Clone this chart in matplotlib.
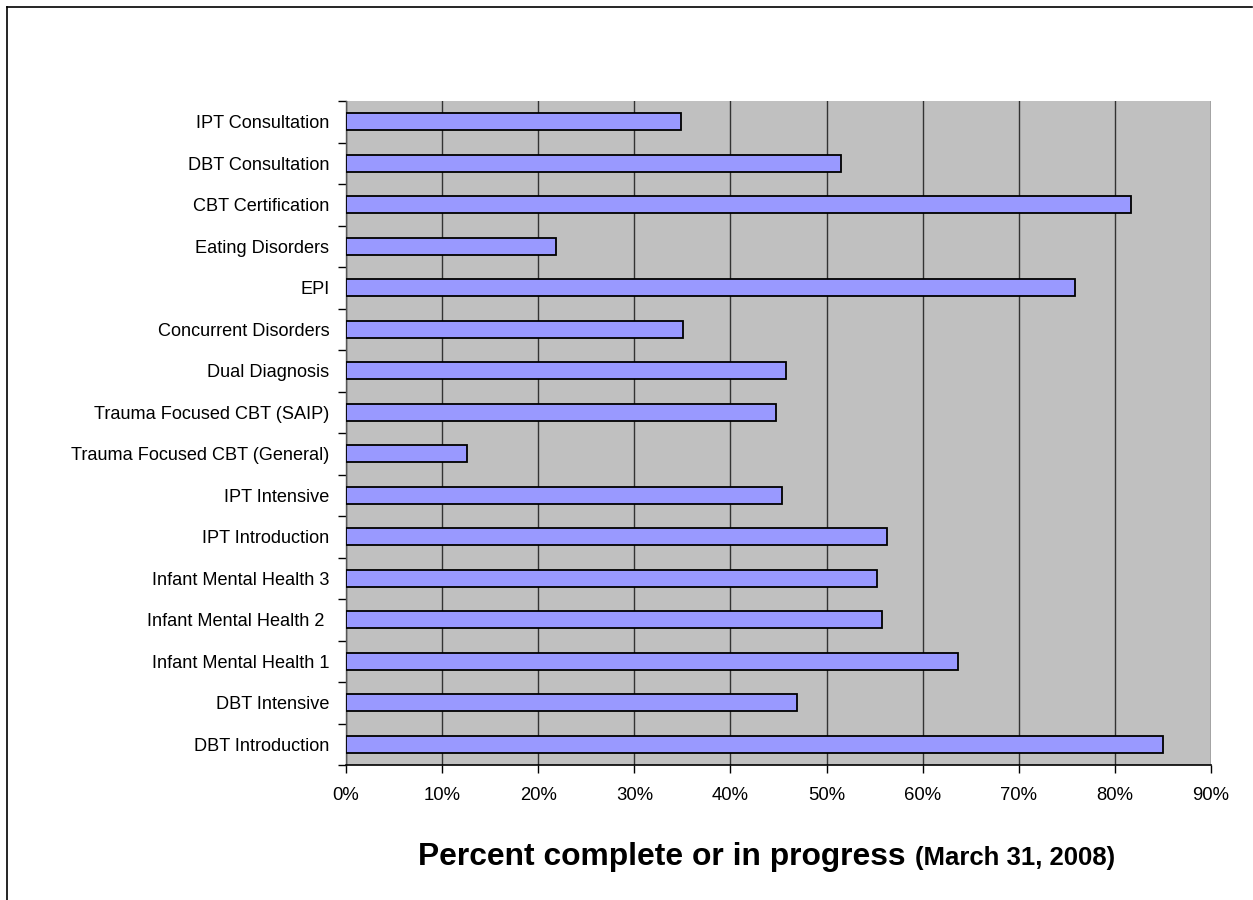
import matplotlib
matplotlib.use("Agg")
import matplotlib.pyplot as plt
from matplotlib.lines import Line2D
from matplotlib.ticker import FixedLocator, PercentFormatter

plt.rcParams['font.family'] = ['Liberation Sans', 'DejaVu Sans']

categories = [
    "DBT Introduction", "DBT Intensive", "Infant Mental Health 1",
    "Infant Mental Health 2 ", "Infant Mental Health 3", "IPT Introduction",
    "IPT Intensive", "Trauma Focused CBT (General)", "Trauma Focused CBT (SAIP)",
    "Dual Diagnosis", "Concurrent Disorders", "EPI", "Eating Disorders",
    "CBT Certification", "DBT Consultation", "IPT Consultation",
]
values = [85.0, 46.9, 63.7, 55.8, 55.3, 56.3, 45.4, 12.6, 44.7, 45.8,
          35.1, 75.9, 21.9, 81.7, 51.5, 34.9]
xticks = [0, 10, 20, 30, 40, 50, 60, 70, 80, 90]

W, H = 1253, 900
fig = plt.figure(figsize=(W / 100, H / 100), dpi=100)
ax = fig.add_axes([346 / W, 1 - 765 / H, (1211 - 346) / W, (765 - 101) / H])
ax.set_facecolor('#C0C0C0')

ypos = list(range(len(categories)))
ax.barh(ypos, values, height=0.42, color='#9999FF', edgecolor='black',
        linewidth=1.3, zorder=3)

ax.set_xlim(0, 90)
ax.set_ylim(-0.5, len(categories) - 0.5)
ax.set_xticks(xticks)
ax.xaxis.set_major_formatter(PercentFormatter(decimals=0))
ax.grid(axis='x', color='#333333', linewidth=1.0, zorder=1)

ax.set_yticks(ypos)
ax.set_yticklabels(categories, fontsize=13.1)
ax.yaxis.set_minor_locator(FixedLocator([i - 0.5 for i in range(len(categories) + 1)]))
ax.tick_params(axis='y', which='major', length=0, pad=12)
ax.tick_params(axis='y', which='minor', length=6, width=1, color='black', direction='out')
ax.tick_params(axis='x', which='major', length=6, width=1, color='black', direction='out',
               labelsize=13.3, pad=10)

for s in ['top', 'right']:
    ax.spines[s].set_visible(False)
ax.spines['left'].set_color('#555555')
ax.spines['bottom'].set_color('black')
ax.spines['left'].set_linewidth(1)
ax.spines['bottom'].set_linewidth(1.2)

fig.text(418 / W, 1 - 857 / H, "Percent complete or in progress", fontsize=22.9,
         fontweight='bold', va='center', ha='left')
fig.text(1115 / W, 1 - 858 / H, "(March 31, 2008)", fontsize=18.5,
         fontweight='bold', va='center', ha='right')

# outer frame (top and left)
fig.add_artist(Line2D([7 / W, 1252 / W], [1 - 7 / H, 1 - 7 / H], color='black',
                      linewidth=1.2, transform=fig.transFigure))
fig.add_artist(Line2D([7 / W, 7 / W], [1 - 7 / H, 0], color='black',
                      linewidth=1.2, transform=fig.transFigure))

fig.savefig("out.png", dpi=100)
